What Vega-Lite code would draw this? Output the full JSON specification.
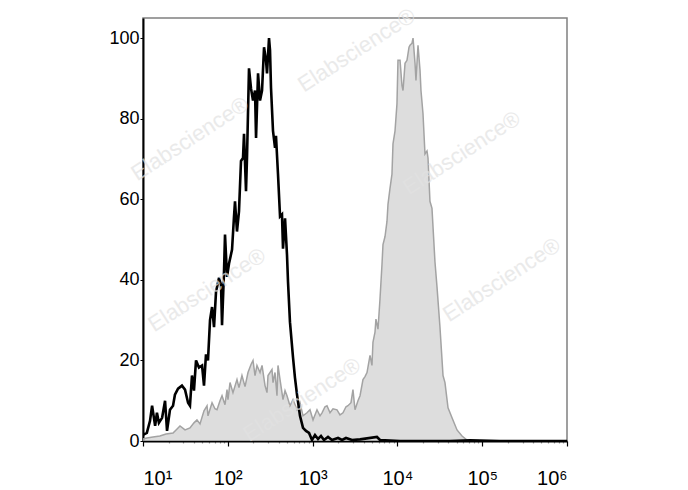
{
  "$schema": "https://vega.github.io/schema/vega-lite/v6.json",
  "width": 424,
  "height": 423,
  "autosize": "none",
  "padding": {"left": 143, "top": 18, "right": 121, "bottom": 49},
  "background": "white",
  "config": {
    "view": {"stroke": "#808080", "strokeWidth": 1.5},
    "font": "Liberation Sans"
  },
  "datasets": {
    "black": [
      {"x":10,"c":1.5},{"x":11.1,"c":2},{"x":12.1,"c":5},{"x":12.8,"c":8.75},{"x":13.9,"c":3.75},{"x":14.6,"c":7},{"x":15.4,"c":4.5},{"x":16.8,"c":5.75},{"x":18.2,"c":10},{"x":19.2,"c":2.5},{"x":20.8,"c":7.75},{"x":22.6,"c":8.75},{"x":23.8,"c":11.5},{"x":25.9,"c":13},{"x":28.8,"c":13.75},{"x":31.3,"c":12.75},{"x":34,"c":9.5},{"x":35.8,"c":8.75},{"x":37.8,"c":16.25},{"x":39.9,"c":12.5},{"x":42.2,"c":20},{"x":45.7,"c":18.25},{"x":49.7,"c":18.75},{"x":52.4,"c":13.75},{"x":55.3,"c":21.5},{"x":58.4,"c":20},{"x":61.7,"c":30},{"x":65.2,"c":33.25},{"x":68.8,"c":28.25},{"x":72.6,"c":37},{"x":78.8,"c":40.5},{"x":83.2,"c":38.75},{"x":85.5,"c":28.75},{"x":90.2,"c":42},{"x":92.7,"c":51.25},{"x":97.9,"c":40.75},{"x":103.3,"c":44},{"x":112.2,"c":47.5},{"x":118.4,"c":55.75},{"x":121.6,"c":59.5},{"x":128.3,"c":52},{"x":135.5,"c":57},{"x":143.1,"c":69.5},{"x":151.1,"c":70.25},{"x":155.3,"c":76.25},{"x":163.9,"c":62},{"x":168.4,"c":70.25},{"x":177.8,"c":92.5},{"x":187.8,"c":87.5},{"x":198.3,"c":84.5},{"x":209.4,"c":87},{"x":215.3,"c":75.25},{"x":227.3,"c":91.25},{"x":239.9,"c":84.5},{"x":253.3,"c":87},{"x":267.5,"c":97.75},{"x":282.2,"c":94.5},{"x":290,"c":91.25},{"x":306.2,"c":100},{"x":314.7,"c":97},{"x":323.1,"c":87.75},{"x":341.2,"c":77},{"x":360.5,"c":72.75},{"x":370,"c":75.75},{"x":390.8,"c":66.25},{"x":413,"c":55.75},{"x":435.5,"c":56.25},{"x":447.7,"c":47.75},{"x":473.2,"c":55.25},{"x":498.9,"c":46.25},{"x":512.9,"c":39.5},{"x":541,"c":29.5},{"x":587.5,"c":20.75},{"x":619.4,"c":15.75},{"x":654.6,"c":11.5},{"x":709.9,"c":6.25},{"x":770.9,"c":3.25},{"x":835.7,"c":2.5},{"x":907.8,"c":2},{"x":984,"c":0.25},{"x":1067,"c":1.5},{"x":1159,"c":0.5},{"x":1256,"c":1.25},{"x":1362,"c":0.25},{"x":1520,"c":1},{"x":1694,"c":0.25},{"x":1995,"c":0.75},{"x":2224,"c":0.25},{"x":2477,"c":0.75},{"x":2917,"c":0.25},{"x":3625,"c":0.4},{"x":5741,"c":1},{"x":6234,"c":0.25},{"x":10740,"c":0},{"x":41690,"c":0},{"x":71780,"c":0.2},{"x":162200,"c":0},{"x":1000000,"c":0}
    ],
    "gray": [
      {"x":10,"c":0.5},{"x":11.1,"c":0.75},{"x":13.1,"c":1},{"x":15.8,"c":1.25},{"x":18.7,"c":1.75},{"x":22.6,"c":2},{"x":25.2,"c":3},{"x":27.3,"c":3.75},{"x":31.3,"c":2.75},{"x":35.8,"c":3.25},{"x":39.9,"c":4.5},{"x":43.3,"c":5.25},{"x":47,"c":4.25},{"x":52.4,"c":7.5},{"x":56.9,"c":8.75},{"x":58.4,"c":6.25},{"x":65.2,"c":9.5},{"x":70.6,"c":8},{"x":74.6,"c":7.75},{"x":80.9,"c":10},{"x":85.5,"c":11.25},{"x":92.7,"c":9},{"x":97.9,"c":12.75},{"x":100.5,"c":10.25},{"x":106.2,"c":14.5},{"x":115.1,"c":12},{"x":128.3,"c":15.25},{"x":135.5,"c":13.25},{"x":146.9,"c":16.25},{"x":159.6,"c":13.5},{"x":173,"c":17},{"x":187.8,"c":19},{"x":198.3,"c":20},{"x":209.4,"c":16.25},{"x":220.8,"c":18.75},{"x":239.9,"c":17},{"x":253.3,"c":18.75},{"x":274.8,"c":13.75},{"x":290,"c":12},{"x":297.9,"c":16.25},{"x":331.9,"c":17.75},{"x":341.2,"c":14.5},{"x":360.5,"c":17},{"x":380.2,"c":11.25},{"x":390.8,"c":18.75},{"x":413,"c":15.25},{"x":447.7,"c":10.25},{"x":473.2,"c":12.5},{"x":498.9,"c":11.25},{"x":541,"c":8.75},{"x":587.5,"c":10.25},{"x":654.6,"c":7.75},{"x":709.9,"c":9.5},{"x":770.9,"c":6.25},{"x":859,"c":7},{"x":931.1,"c":7.75},{"x":1012,"c":5.25},{"x":1127,"c":7.75},{"x":1222,"c":6.25},{"x":1291,"c":7},{"x":1400,"c":8.5},{"x":1479,"c":8.75},{"x":1604,"c":7},{"x":1741,"c":8},{"x":1940,"c":7.75},{"x":2104,"c":6.5},{"x":2282,"c":7},{"x":2477,"c":8.5},{"x":2612,"c":8.75},{"x":2836,"c":9.5},{"x":2992,"c":12.75},{"x":3162,"c":7.75},{"x":3428,"c":10},{"x":3625,"c":11.25},{"x":3927,"c":15.25},{"x":4149,"c":16},{"x":4382,"c":17},{"x":4755,"c":21.25},{"x":5012,"c":18.75},{"x":5149,"c":24.5},{"x":5441,"c":27},{"x":5585,"c":30.25},{"x":5902,"c":27.75},{"x":6234,"c":35.25},{"x":6577,"c":43.75},{"x":6761,"c":48.75},{"x":7145,"c":50.75},{"x":7534,"c":54.5},{"x":7745,"c":58.75},{"x":8185,"c":62.75},{"x":8630,"c":66.25},{"x":8872,"c":73.75},{"x":9376,"c":77},{"x":9886,"c":83.75},{"x":10160,"c":94.5},{"x":10740,"c":94.5},{"x":11320,"c":88.25},{"x":11650,"c":87},{"x":12300,"c":93.75},{"x":12970,"c":94.5},{"x":13710,"c":97.75},{"x":14090,"c":98.25},{"x":14870,"c":98.75},{"x":15290,"c":100},{"x":16140,"c":93.75},{"x":16560,"c":89.5},{"x":17500,"c":98.25},{"x":18490,"c":92},{"x":18970,"c":87},{"x":20040,"c":81.25},{"x":21150,"c":71.25},{"x":22340,"c":72},{"x":22960,"c":70.25},{"x":24210,"c":59.5},{"x":25580,"c":57.75},{"x":27730,"c":44.5},{"x":29310,"c":38.25},{"x":31770,"c":28.25},{"x":34510,"c":16.25},{"x":36390,"c":14.5},{"x":39540,"c":8.25},{"x":44060,"c":5.75},{"x":50470,"c":2.75},{"x":57810,"c":1.25},{"x":66220,"c":0.25},{"x":82240,"c":0},{"x":1000000,"c":0}
    ],
    "marks": [
      {"x":35.8,"y":75,"t":"Elabscience®"},
      {"x":3311,"y":97,"t":"Elabscience®"},
      {"x":57500,"y":71.5,"t":"Elabscience®"},
      {"x":56.9,"y":37.5,"t":"Elabscience®"},
      {"x":170000,"y":40,"t":"Elabscience®"},
      {"x":750,"y":10.25,"t":"Elabscience®"}
    ]
  },
  "layer": [
    {
      "data": {"name": "gray"},
      "mark": {"type": "area", "color": "#cfcfcf", "line": {"color": "#a3a3a3", "strokeWidth": 1.5}, "clip": true},
      "encoding": {
        "x": {
          "field": "x", "type": "quantitative",
          "scale": {"type": "log", "domain": [10, 1000000], "nice": false},
          "axis": {
            "title": null,
            "values": [10,20,30,40,50,60,70,80,90,100,200,300,400,500,600,700,800,900,1000,2000,3000,4000,5000,6000,7000,8000,9000,10000,20000,30000,40000,50000,60000,70000,80000,90000,100000,200000,300000,400000,500000,600000,700000,800000,900000,1000000],
            "labelExpr": "indexof([10,100,1000,10000,100000,1000000], datum.value) >= 0 ? '10' + ['¹','²','³','⁴','⁵','⁶'][round(log(datum.value)/LN10)-1] : ''",
            "labelFont": "Liberation Sans",
            "labelFontSize": 20,
            "labelColor": "black",
            "labelPadding": 22,
            "labelFlush": true,
            "labelOverlap": false,
            "labelBound": false,
            "domainColor": "black",
            "domainWidth": 2,
            "tickColor": {"condition": {"test": "indexof([10,100,1000,10000,100000,1000000], datum.value) >= 0", "value": "black"}, "value": "#999999"},
            "tickSize": {"condition": {"test": "indexof([10,100,1000,10000,100000,1000000], datum.value) >= 0", "value": 5}, "value": 2},
            "tickWidth": 1.2,
            "grid": false
          }
        },
        "y": {
          "field": "c", "type": "quantitative",
          "scale": {"domain": [0, 105], "nice": false, "zero": false},
          "axis": {
            "title": null,
            "values": [0,20,40,60,80,100],
            "labelFont": "Liberation Sans",
            "labelFontSize": 18,
            "labelColor": "black",
            "labelPadding": 1,
            "tickSize": 3,
            "tickColor": "black",
            "domainColor": "black",
            "domainWidth": 2,
            "grid": false
          }
        }
      }
    },
    {
      "data": {"name": "black"},
      "mark": {"type": "line", "color": "black", "strokeWidth": 2.6, "clip": true},
      "encoding": {
        "x": {"field": "x", "type": "quantitative"},
        "y": {"field": "c", "type": "quantitative"}
      }
    },
    {
      "data": {"name": "marks"},
      "mark": {"type": "text", "angle": -33, "fontSize": 22, "font": "Liberation Sans", "color": "#e2e2e2", "opacity": 0.7, "align": "center", "baseline": "middle"},
      "encoding": {
        "x": {"field": "x", "type": "quantitative"},
        "y": {"field": "y", "type": "quantitative"},
        "text": {"field": "t"}
      }
    }
  ]
}
